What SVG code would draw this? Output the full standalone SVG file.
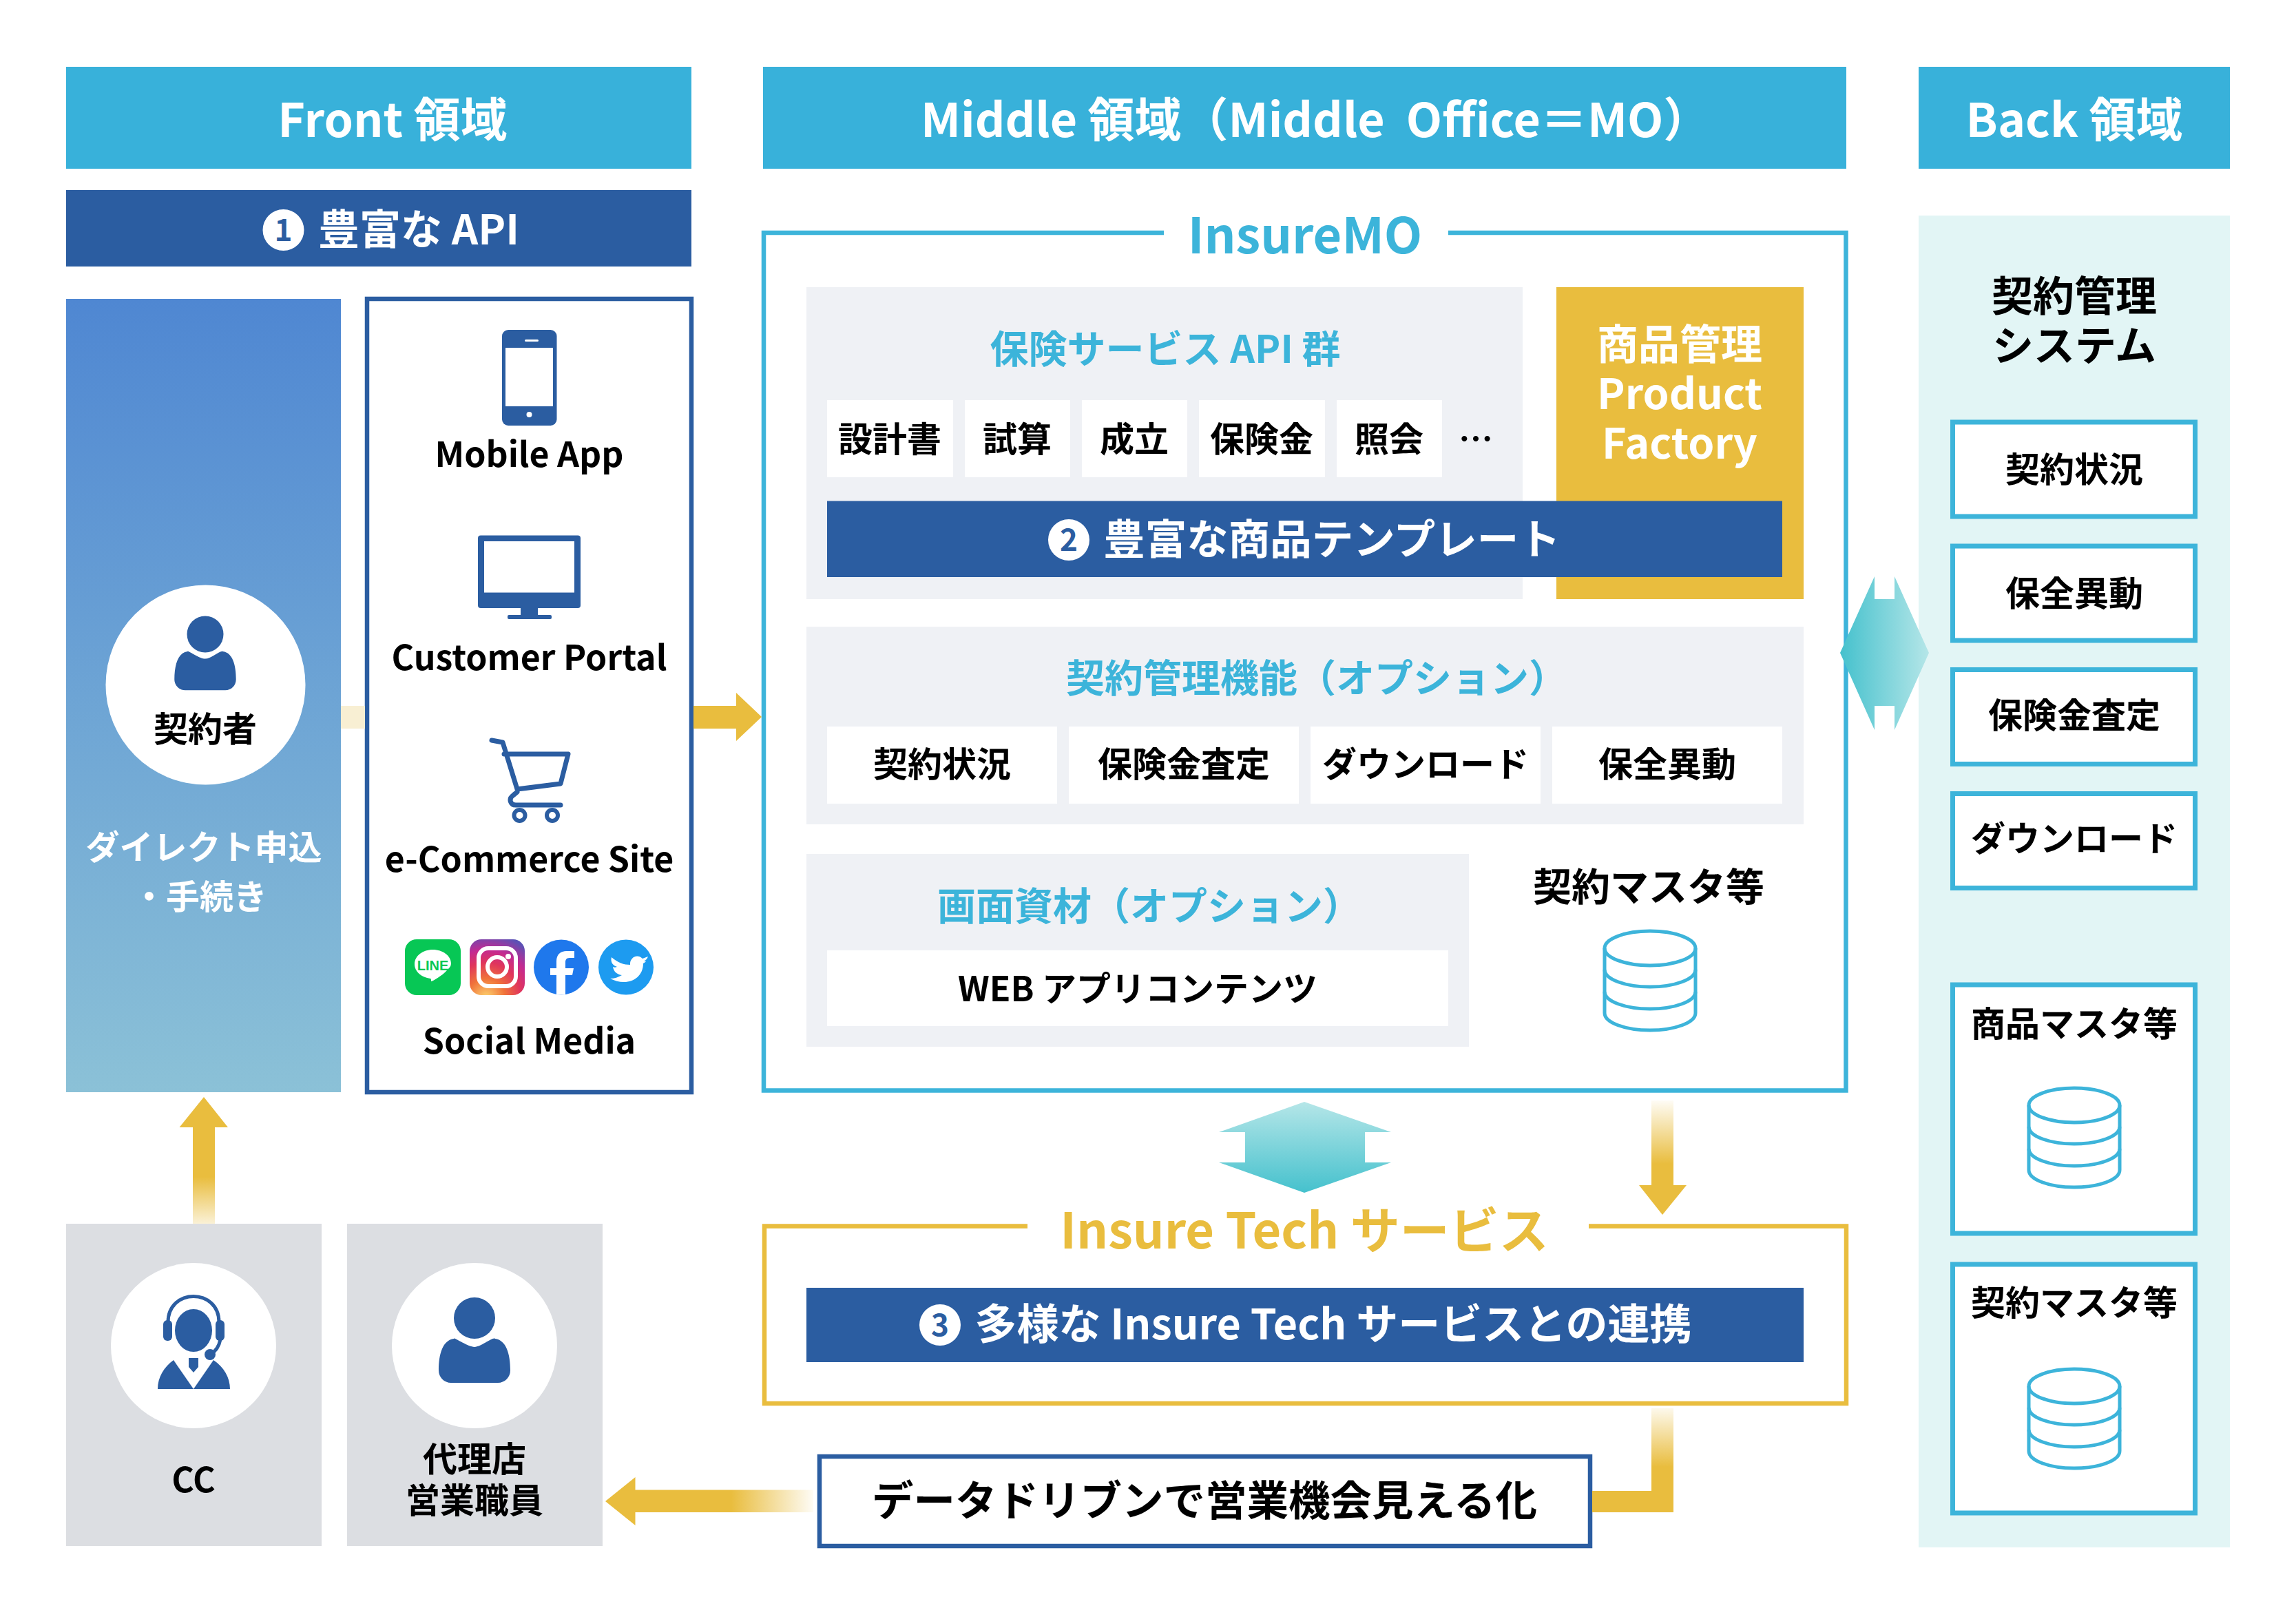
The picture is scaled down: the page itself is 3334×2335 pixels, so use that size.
<svg xmlns="http://www.w3.org/2000/svg" width="3334" height="2335" viewBox="0 0 3334 2335">
<style>
text{font-family:"Noto Sans CJK JP","Noto Sans",sans-serif;font-weight:700;text-anchor:middle;fill:#000}
.h{font-size:68px;fill:#fff}
.w{fill:#fff}
.c{fill:#3cb4da}
.m{font-size:50px}
.l{font-size:50px}
.t{font-size:56px;fill:#3cb4da}
.num{font-size:44px;fill:#2b5da1}
.hdr{fill:#38b1da}.blue{fill:#2b5da1}.gold{fill:#e9bd3e}.gray{fill:#dcdee2}.pan{fill:#eff1f5}.wh{fill:#fff}
.bx{fill:#fff;stroke:#3db4da;stroke-width:7}
.db{fill:none;stroke:#3db4da;stroke-width:5}
</style>
<defs>
<linearGradient id="gPanel" x1="0" y1="0" x2="0" y2="1"><stop offset="0" stop-color="#4f87d2"/><stop offset="1" stop-color="#8bc1d7"/></linearGradient>
<linearGradient id="gH" x1="0" y1="0" x2="1" y2="0"><stop offset="0" stop-color="#45c1cd"/><stop offset="1" stop-color="#b5e6e8"/></linearGradient>
<linearGradient id="gV" x1="0" y1="0" x2="0" y2="1"><stop offset="0" stop-color="#b5e6e8"/><stop offset="1" stop-color="#45c1cd"/></linearGradient>
<linearGradient id="gUp" gradientUnits="userSpaceOnUse" x1="0" y1="1778" x2="0" y2="1709"><stop offset="0" stop-color="#e9bd3e" stop-opacity=".2"/><stop offset="1" stop-color="#e9bd3e"/></linearGradient>
<linearGradient id="gDown" gradientUnits="userSpaceOnUse" x1="0" y1="1598" x2="0" y2="1690"><stop offset="0" stop-color="#e9bd3e" stop-opacity=".05"/><stop offset="1" stop-color="#e9bd3e"/></linearGradient>
<linearGradient id="gDown2" gradientUnits="userSpaceOnUse" x1="0" y1="2045" x2="0" y2="2130"><stop offset="0" stop-color="#e9bd3e" stop-opacity=".1"/><stop offset="1" stop-color="#e9bd3e"/></linearGradient>
<linearGradient id="gLeft" gradientUnits="userSpaceOnUse" x1="1062" y1="0" x2="1181" y2="0"><stop offset="0" stop-color="#e9bd3e"/><stop offset="1" stop-color="#e9bd3e" stop-opacity=".05"/></linearGradient>
<radialGradient id="gIg" cx=".3" cy="1.05" r="1.15"><stop offset="0" stop-color="#fdd671"/><stop offset=".3" stop-color="#f0733a"/><stop offset=".55" stop-color="#e0355c"/><stop offset=".75" stop-color="#c32a92"/><stop offset="1" stop-color="#5b51b5"/></radialGradient>
<g id="dbIcon" class="db">
<ellipse cx="0" cy="27" rx="66" ry="25"/>
<path d="M-66 27V121C-66 135-36 146 0 146S66 135 66 121V27"/>
<path d="M-66 58C-66 72-36 83 0 83S66 72 66 58"/>
<path d="M-66 90C-66 104-36 115 0 115S66 104 66 90"/>
</g>
<path id="person" class="blue" d="M-30 0C-30 -3 -10 12 0 12S26 -3 30 0C46 2 52 22 52 46C52 56 44 64 34 64H-34C-44 64 -52 56 -52 46C-52 22 -46 2 -30 0Z"/>
</defs>

<g id="header-front"><rect class="hdr" x="96" y="97" width="908" height="148"/><text class="h" x="570" y="199">Front 領域</text></g>
<g id="header-middle"><rect class="hdr" x="1108" y="97" width="1573" height="148"/><text class="h" x="1337" y="199" style="text-anchor:start" xml:space="preserve">Middle 領域（Middle  Office＝MO）</text></g>
<g id="header-back"><rect class="hdr" x="2786" y="97" width="452" height="148"/><text class="h" x="3012" y="199">Back 領域</text></g>

<g id="api-bar"><rect class="blue" x="96" y="276" width="908" height="111"/><circle class="wh" cx="411.500" cy="334" r="30"/><text class="num" x="411.500" y="350">1</text><text class="w" x="608" y="355" font-size="60">豊富な API</text></g>

<g id="customer"><rect x="96" y="434" width="399" height="1152" fill="url(#gPanel)"/><circle class="wh" cx="298.500" cy="994.500" r="145"/><circle class="blue" cx="298" cy="921" r="26.500"/><use href="#person" transform="translate(298 946) scale(.86 .88)"/><text class="m" x="298" y="1077">契約者</text><text class="w" font-size="49" x="296" y="1248">ダイレクト申込</text><text class="w" font-size="49" x="290" y="1320">・手続き</text></g>

<g id="channels"><rect x="533" y="434" width="471" height="1152" fill="#fff" stroke="#2b5da1" stroke-width="6.500"/>
<g id="mobile-app"><rect class="blue" x="729" y="479" width="79.500" height="139" rx="9"/><rect class="wh" x="734" y="505" width="69" height="85"/><circle class="wh" cx="768.500" cy="602" r="4"/><rect class="wh" x="762" y="493" width="20" height="3" rx="1.500"/><text class="m" x="768.500" y="678">Mobile App</text></g>
<g id="customer-portal"><rect class="blue" x="694" y="777.500" width="149" height="105.500" rx="4"/><rect class="wh" x="703" y="786" width="131" height="74.500"/><rect class="blue" x="756" y="883" width="25" height="11"/><rect class="blue" x="737" y="893" width="64" height="6" rx="2"/><text class="m" x="768.500" y="973">Customer Portal</text></g>
<g id="ecommerce"><path d="M714 1075L730 1078L751 1146L814 1138L825 1095H732M751 1150L745 1155C738 1160 741 1169 749 1169H814" fill="none" stroke="#2b5da1" stroke-width="7" stroke-linecap="round" stroke-linejoin="round"/><circle cx="754.500" cy="1184" r="8" fill="#fff" stroke="#2b5da1" stroke-width="6"/><circle cx="802" cy="1184" r="8" fill="#fff" stroke="#2b5da1" stroke-width="6"/><text class="m" x="768.500" y="1266">e-Commerce Site</text></g>
<g id="social-media">
<rect x="588" y="1364" width="81" height="81" rx="17" fill="#07c755"/><path fill="#fff" d="M628.500 1379C614 1379 602 1388 602 1400C602 1411 612 1419 625 1421C626 1421 626 1423 626 1425C628 1425 642 1417 649 1409C653 1405 655 1403 655 1399C655 1388 643 1379 628.500 1379Z"/><text x="628.500" y="1409" font-size="20" style="fill:#07c755;font-family:'Liberation Sans',sans-serif">LINE</text>
<rect x="682" y="1364" width="80" height="81" rx="17" fill="url(#gIg)"/><rect x="695" y="1377" width="54" height="55" rx="14" fill="none" stroke="#fff" stroke-width="6"/><circle cx="722" cy="1404" r="14" fill="none" stroke="#fff" stroke-width="6"/><circle cx="738" cy="1389" r="4" fill="#fff"/>
<circle cx="815" cy="1404.500" r="40" fill="#1f78ec"/><path fill="#fff" d="M808 1444.500V1416H799V1406H808V1396C808 1386 814 1381 823 1381L834 1381V1391H827C822 1391 821 1394 821 1398V1406H833L831 1416H821V1444.500Z"/>
<circle cx="909" cy="1404.500" r="40" fill="#1d9bf0"/><path fill="#fff" d="M888 1390C897 1398 906 1401 915 1401C914 1391 925 1384 933 1392C936 1391 938 1390 941 1389C940 1392 938 1394 935 1396C938 1396 940 1395 934 1399C934 1416 921 1426 906 1426C899 1426 892 1424 886 1421C892 1421 898 1419 903 1416C895 1415 891 1410 890 1404C892 1405 893 1405 896 1404C890 1402 886 1397 888 1390Z"/>
<text class="m" x="768.500" y="1530">Social Media</text></g>
</g>

<g id="insuremo"><path d="M1690 338H1109V1583.500H2680.500V338H2103" fill="none" stroke="#3db4da" stroke-width="6.500"/><text class="c" x="1895" y="368" font-size="72">InsureMO</text></g>

<g id="api-group"><rect class="pan" x="1171" y="417" width="1040" height="453"/><text class="t" x="1692" y="527">保険サービス API 群</text>
<g id="b1"><rect class="wh" x="1201" y="581" width="183" height="112"/><text class="l" x="1292" y="656">設計書</text></g>
<g id="b2"><rect class="wh" x="1401" y="581" width="153" height="112"/><text class="l" x="1477" y="656">試算</text></g>
<g id="b3"><rect class="wh" x="1571" y="581" width="153" height="112"/><text class="l" x="1647" y="656">成立</text></g>
<g id="b4"><rect class="wh" x="1741" y="581" width="183" height="112"/><text class="l" x="1832" y="656">保険金</text></g>
<g id="b5"><rect class="wh" x="1941" y="581" width="153" height="112"/><text class="l" x="2017" y="656">照会</text></g>
<text class="l" x="2143" y="656">…</text></g>

<g id="product-factory"><rect class="gold" x="2260" y="417" width="359" height="453"/><text class="w" x="2439" y="522" font-size="60">商品管理</text><text class="w" x="2439" y="594" font-size="61">Product</text><text class="w" x="2439" y="666" font-size="61">Factory</text></g>
<g id="template-bar"><rect class="blue" x="1201" y="727.500" width="1387" height="110.500"/><circle class="wh" cx="1552" cy="784" r="30"/><text class="num" x="1552" y="800">2</text><text class="w" x="1934" y="805" font-size="60.500">豊富な商品テンプレート</text></g>

<g id="contract-group"><rect class="pan" x="1171" y="910" width="1448" height="287"/><text class="t" x="1548" y="1005" style="text-anchor:start">契約管理機能（オプション）</text>
<g><rect class="wh" x="1201" y="1055" width="334" height="112"/><text class="l" x="1368" y="1128">契約状況</text></g>
<g><rect class="wh" x="1552" y="1055" width="334" height="112"/><text class="l" x="1719" y="1128">保険金査定</text></g>
<g><rect class="wh" x="1903" y="1055" width="334" height="112"/><text class="l" x="2070" y="1128">ダウンロード</text></g>
<g><rect class="wh" x="2254" y="1055" width="334" height="112"/><text class="l" x="2421" y="1128">保全異動</text></g></g>

<g id="screen-group"><rect class="pan" x="1171" y="1240" width="962" height="280"/><text class="t" x="1361" y="1336" style="text-anchor:start">画面資材（オプション）</text><rect class="wh" x="1201" y="1380" width="902" height="110"/><text class="l" x="1652" y="1454">WEB アプリコンテンツ</text></g>
<g id="master"><text x="2394" y="1308" font-size="56">契約マスタ等</text><use href="#dbIcon" x="2396" y="1350"/></g>

<g id="insure-tech"><path d="M1492 1780.500H1110V2038H2681V1780.500H2307" fill="none" stroke="#e9bd3e" stroke-width="6.500"/><text x="1894" y="1813" font-size="72" style="fill:#e9bd3e">Insure Tech サービス</text><rect class="blue" x="1171" y="1870" width="1448" height="108"/><circle class="wh" cx="1365" cy="1924" r="30"/><text class="num" x="1365" y="1940">3</text><text class="w" x="1936" y="1945" font-size="61">多様な Insure Tech サービスとの連携</text></g>

<g id="data-driven"><rect x="1190" y="2115" width="1119" height="130" fill="#fff" stroke="#2b5da1" stroke-width="6.500"/><text x="1749" y="2201" font-size="60.500">データドリブンで営業機会見える化</text></g>

<g id="back"><rect x="2786" y="313" width="452" height="1934" fill="#e2f5f5"/><text x="3012" y="452" font-size="60">契約管理</text><text x="3012" y="524" font-size="60">システム</text>
<g><rect class="bx" x="2835.500" y="613" width="352" height="137"/><text class="l" x="3012" y="700">契約状況</text></g>
<g><rect class="bx" x="2835.500" y="793" width="352" height="137"/><text class="l" x="3012" y="880">保全異動</text></g>
<g><rect class="bx" x="2835.500" y="972.500" width="352" height="137"/><text class="l" x="3012" y="1057">保険金査定</text></g>
<g><rect class="bx" x="2835.500" y="1152.500" width="352" height="137"/><text class="l" x="3012" y="1236">ダウンロード</text></g>
<g><rect class="bx" x="2835.500" y="1430" width="352" height="361"/><text class="l" x="3012" y="1505">商品マスタ等</text><use href="#dbIcon" x="3012" y="1578"/></g>
<g><rect class="bx" x="2835.500" y="1836" width="352" height="361"/><text class="l" x="3012" y="1910">契約マスタ等</text><use href="#dbIcon" x="3012" y="1986"/></g>
</g>

<g id="cc"><rect class="gray" x="96" y="1777" width="371" height="468"/><circle class="wh" cx="281" cy="1954" r="120"/>
<ellipse class="blue" cx="281" cy="1932" rx="27" ry="31"/><path d="M244 1920C244 1870 318 1870 318 1920M320 1945C318 1955 314 1962 306 1966" fill="none" stroke="#2b5da1" stroke-width="5"/><rect class="blue" x="237" y="1917" width="13" height="30" rx="6"/><rect class="blue" x="313" y="1917" width="13" height="30" rx="6"/><circle class="blue" cx="305" cy="1967" r="8"/><path class="blue" d="M252 1975L281 2017L310 1975C325 1985 334 2000 334 2017H229C229 2000 238 1985 252 1975Z"/><path class="blue" d="M274 1972H288V1985L281 1993L274 1985Z"/>
<text class="m" x="281" y="2167">CC</text></g>
<g id="agent"><rect class="gray" x="504" y="1777" width="371" height="468"/><circle class="wh" cx="689" cy="1954" r="120"/><circle class="blue" cx="689" cy="1914" r="30"/><use href="#person" transform="translate(689 1944)"/><text class="m" x="689" y="2137">代理店</text><text class="m" x="689" y="2197">営業職員</text></g>

<g id="connectors">
<rect x="495" y="1025" width="35" height="33" fill="#f8efd3"/>
<path class="gold" d="M1007 1025H1069V1006L1106 1041L1069 1076V1058H1007Z"/>
<path fill="url(#gH)" d="M2672 948L2722 837V870H2751V837L2801 948L2751 1060V1025H2722V1060Z"/>
<path fill="url(#gV)" d="M1894 1600L2020 1644H1982V1688H2020L1894 1732L1770 1688H1808V1644H1770Z"/>
<path fill="url(#gUp)" d="M280 1777V1637H260.500L296 1593L331 1637H312V1777Z"/>
<path fill="url(#gDown)" d="M2398 1598H2430V1721H2449L2414 1764L2380 1721H2398Z"/>
<path fill="url(#gDown2)" d="M2398 2045H2430V2196H2398Z"/>
<rect class="gold" x="2312" y="2165" width="118" height="31"/>
<path fill="url(#gLeft)" d="M879 2180L922.500 2145V2163.500H1181V2196H922.500V2215Z"/>
</g>
</svg>
